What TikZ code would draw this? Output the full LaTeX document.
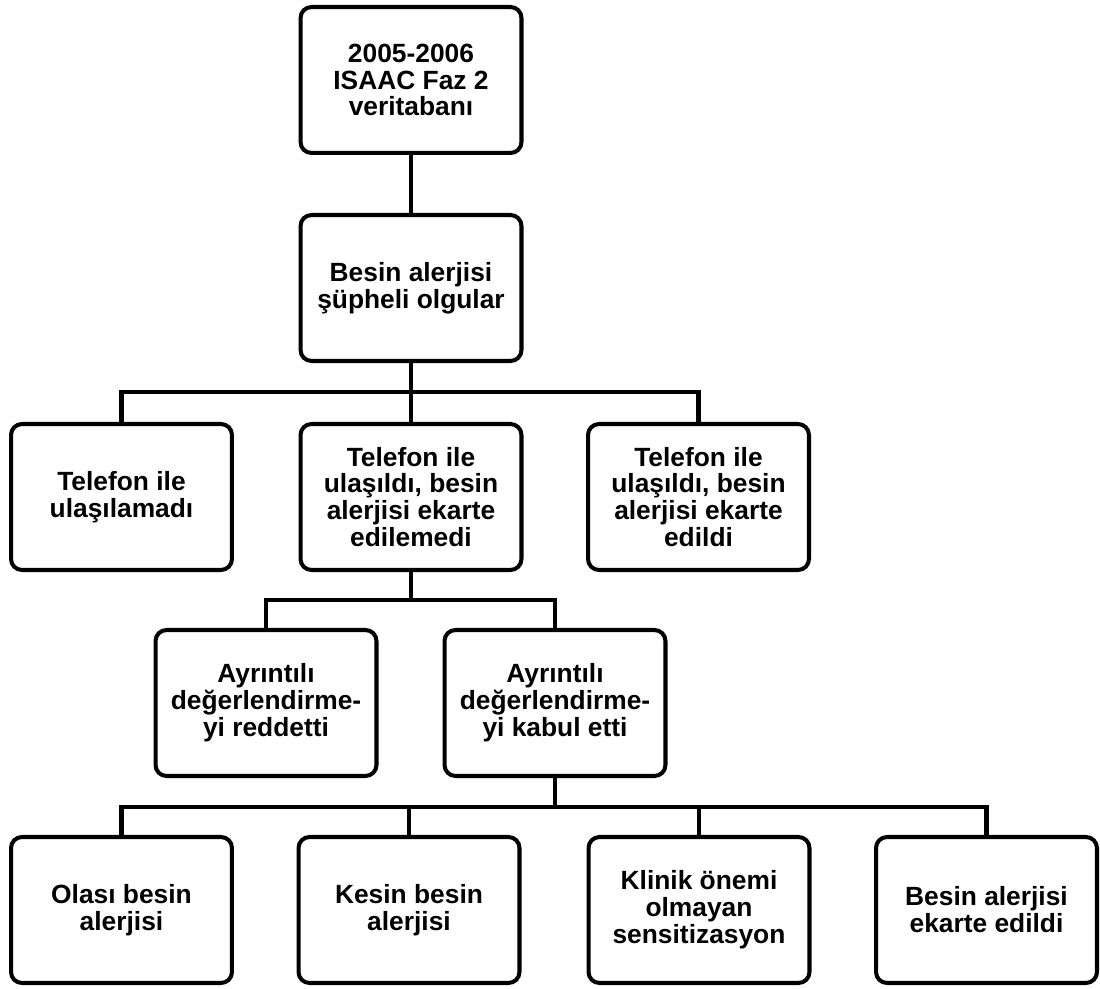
\documentclass[tikz,border=0pt]{standalone}
\usepackage{fontspec}
\setmainfont{Liberation Sans}
\tikzset{
  kutu/.style={draw=black,line width=2.3pt,rounded corners=0.22cm,
    minimum width=4.42cm,minimum height=2.92cm,inner sep=0pt,align=center,
    font=\fontsize{15}{15.3}\selectfont\bfseries},
  hat/.style={line width=2.3pt}
}
\begin{document}
\begin{tikzpicture}[x=0.02cm,y=-0.02cm]
         \useasboundingbox (0,0) rectangle (1100,989) ;
         % kutular
         \node[kutu] (veri) at (411,80) {2005-2006\\ISAAC Faz 2\\veritabanı} ;
         \node[kutu] (supheli) at (411,288) {Besin alerjisi\\şüpheli olgular} ;
         \node[kutu] (ulasilamadi) at (121.5,497) {Telefon ile\\ulaşılamadı} ;
         \node[kutu] (edilemedi) at (411,497) {Telefon ile\\ulaşıldı, besin\\alerjisi ekarte\\edilemedi} ;
         \node[kutu] (edildi) at (698.5,497) {Telefon ile\\ulaşıldı, besin\\alerjisi ekarte\\edildi} ;
         \node[kutu] (reddetti) at (266,703) {Ayrıntılı\\değerlendirme-\\yi reddetti} ;
         \node[kutu] (kabul) at (555,703) {Ayrıntılı\\değerlendirme-\\yi kabul etti} ;
         \node[kutu] (olasi) at (121.5,910) {Olası besin\\alerjisi} ;
         \node[kutu] (kesin) at (409,910) {Kesin besin\\alerjisi} ;
         \node[kutu] (klinik) at (699,910) {Klinik önemi\\olmayan\\sensitizasyon} ;
         \node[kutu] (ekarte) at (986.5,910) {Besin alerjisi\\ekarte edildi} ;
         % baglantilar
         \coordinate (bar1) at (411,392) ;
         \coordinate (bar2) at (411,600) ;
         \coordinate (bar3) at (555,807) ;
         \draw[hat] (veri) -- (supheli) ;
         \draw[hat] (supheli) -- (edilemedi) ;
         \draw[hat] (ulasilamadi.north) |- (bar1) -| (edildi.north) ;
         \draw[hat] (edilemedi) -- (bar2) ;
         \draw[hat] (reddetti.north) |- (bar2) -| (kabul.north) ;
         \draw[hat] (kabul) -- (bar3) ;
         \draw[hat] (olasi.north) |- (bar3) -| (ekarte.north) ;
         \draw[hat] (kesin.north) -- (kesin.north |- bar3) ;
         \draw[hat] (klinik.north) -- (klinik.north |- bar3) ;
      \end{tikzpicture}
\end{document}
